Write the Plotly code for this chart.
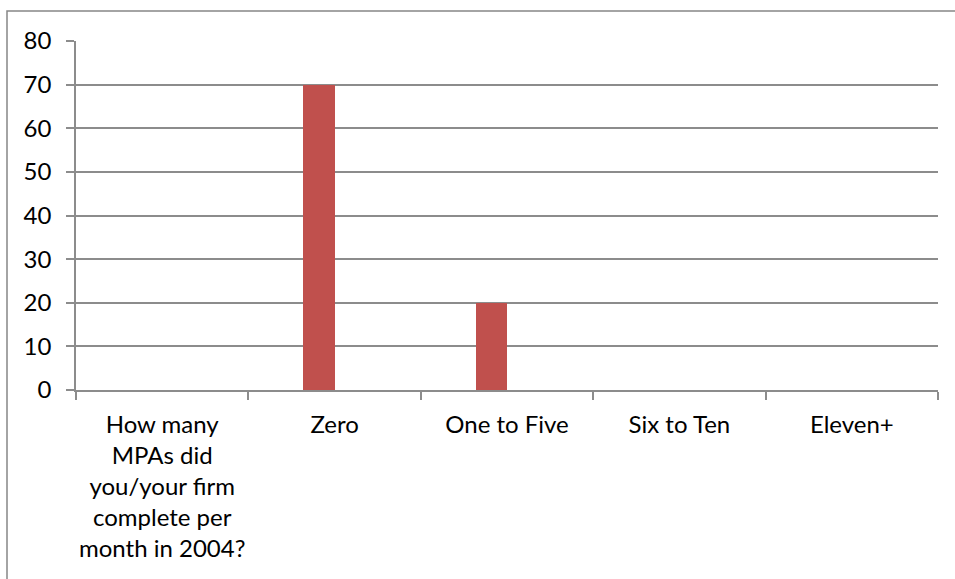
import plotly.graph_objects as go

categories = [
    "How many<br>MPAs did<br>you/your firm<br>complete per<br>month in 2004?",
    "Zero",
    "One to Five",
    "Six to Ten",
    "Eleven+",
]
values = [0, 70, 20, 0, 0]
y_ticks = [0, 10, 20, 30, 40, 50, 60, 70, 80]

W, H = 955, 579
L, R, T, B = 76, 938, 41, 390
pw, ph = R - L, B - T

fig = go.Figure()
fig.add_trace(go.Bar(
    x=categories, y=values,
    marker=dict(color="#C0504D", line=dict(width=0)),
    width=0.1816, offset=-0.1816,
    showlegend=False, hoverinfo="x+y",
))

grid = "#8C8C8C"
font = dict(family="Lato, Calibri, Carlito, sans-serif", size=24, color="#000000")

fig.update_layout(
    width=W, height=H,
    margin=dict(l=L, r=W - R, t=T, b=H - B, autoexpand=False),
    paper_bgcolor="white", plot_bgcolor="white",
    font=font,
    bargap=0,
    xaxis=dict(
        type="category", tickson="boundaries", tickangle=0, automargin=False,
        ticks="outside", ticklen=8, tickcolor=grid, tickwidth=1.5,
        showline=True, linecolor=grid, linewidth=1.5,
        showgrid=False, tickfont=font, ticklabelstandoff=12,
        range=[-0.5, 4.5],
    ),
    yaxis=dict(
        range=[0, 80], tickvals=y_ticks, automargin=False,
        ticks="outside", ticklen=8, tickcolor=grid, tickwidth=1.5,
        showline=True, linecolor=grid, linewidth=1.5,
        showgrid=True, gridcolor=grid, gridwidth=1.5,
        zeroline=False, tickfont=font, ticklabelstandoff=10,
    ),
    shapes=[dict(
        type="rect", xref="paper", yref="paper",
        x0=(7 - L) / pw, x1=(W + 5 - L) / pw,
        y0=(B - (H + 5)) / ph, y1=(B - 11) / ph,
        line=dict(color="#868686", width=1.5), fillcolor="rgba(0,0,0,0)",
        layer="below",
    )],
)

fig.write_html("out.html")
